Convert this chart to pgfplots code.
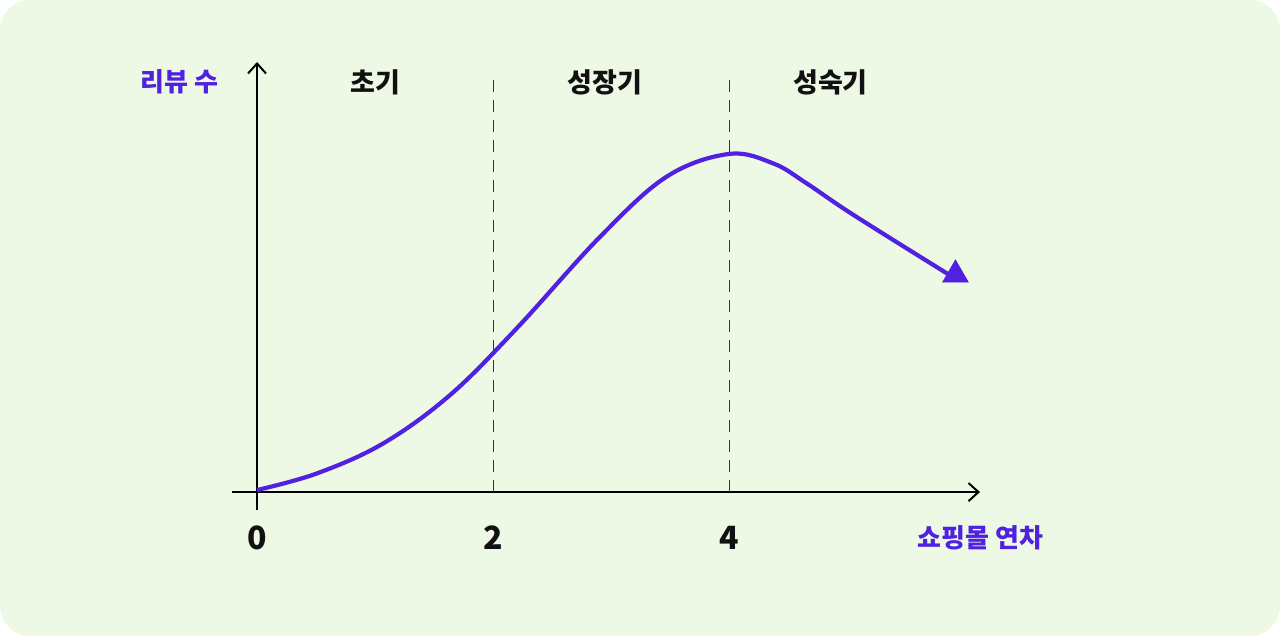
\documentclass[border=0pt]{standalone}
\usepackage{fontspec}
\setmainfont{Noto Sans CJK KR}
\usepackage{pgfplots}
\usepackage{pgfplotstable}
\pgfplotsset{compat=1.18}
\usetikzlibrary{arrows.meta}

\definecolor{bg}{HTML}{EDF9E5}
\definecolor{violet}{HTML}{5022E0}
\definecolor{ink}{HTML}{111111}

% review count over shop age (peak = 100)
\pgfplotstableread{
x     y
0     0.6
0.506 5.5
1.07  14.4
1.636 28.7
2.2   48.4
2.907 75.5
3.472 93.3
4.0   100
4.375 97.2
4.658 91.3
5.053 82.0
5.873 64.1
}\curve

\begin{document}
\begin{tikzpicture}
\fill[bg, rounded corners=15pt] (-116pt,-63pt) rectangle (524pt,255pt);
\begin{axis}[
    at={(0pt,0pt)}, anchor=south west,
    scale only axis,
    width=374pt, height=224pt,
    xmin=-0.212, xmax=6.127,
    ymin=-5.3, ymax=127.2,
    axis lines=middle,
    axis line style={line width=1pt, black},
    every inner x axis line/.append style={-{Straight Barb[length=5pt,width=9pt]}},
    every inner y axis line/.append style={-{Straight Barb[length=5pt,width=9pt]}},
    xtick={0,2,4}, ytick=\empty,
    major tick length=0pt,
    hide obscured x ticks=false,
    xticklabel style={anchor=center, yshift=-23pt, text=ink,
        font=\fontsize{16}{16}\selectfont\bfseries},
    /pgf/number format/assume math mode=true,
    clip=false,
]
\addplot[ink!85, line width=0.5pt, dash pattern=on 6pt off 4pt] coordinates {(2,0) (2,122.5)};
\addplot[ink!85, line width=0.5pt, dash pattern=on 6pt off 4pt] coordinates {(4,0) (4,122.5)};
\addplot[violet, line width=2.1pt, smooth, tension=0.6, line join=round] table {\curve};
\addplot[only marks, mark=triangle*, mark size=7.4pt,
    mark options={fill=violet, draw=violet, line width=0.3pt}] coordinates {(5.919,64.3)};

\node[font=\fontsize{13.5}{13.5}\selectfont\bfseries, text=ink] at (1,121.3) {초기};
\node[font=\fontsize{13.5}{13.5}\selectfont\bfseries, text=ink] at (2.95,121.3) {성장기};
\node[font=\fontsize{13.5}{13.5}\selectfont\bfseries, text=ink] at (4.86,121.3) {성숙기};
\node[font=\fontsize{13}{13}\selectfont\bfseries, text=violet] at (-0.66,121.3) {리뷰 수};
\node[font=\fontsize{13}{13}\selectfont\bfseries, text=violet] at (6.13,-13.6) {쇼핑몰 연차};
\end{axis}
\end{tikzpicture}
\end{document}
